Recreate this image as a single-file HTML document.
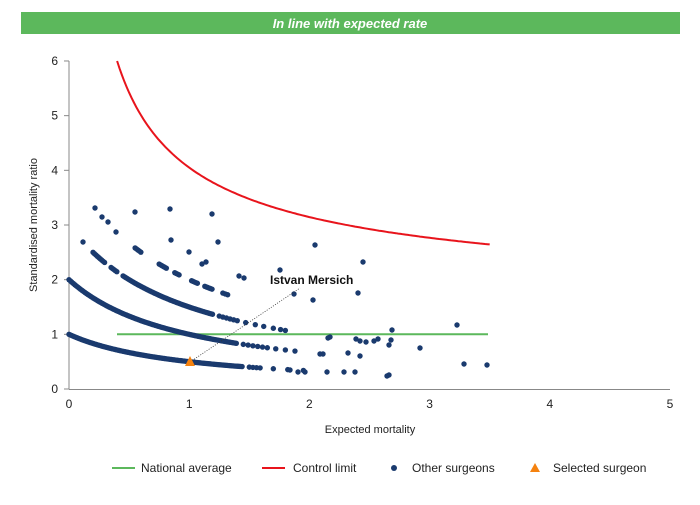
<!DOCTYPE html>
<html><head><meta charset="utf-8"><style>
body{margin:0;background:#fff;width:700px;height:500px;overflow:hidden;font-family:"Liberation Sans",Arial,sans-serif}
</style></head><body>
<svg id="s" width="700" height="500" xmlns="http://www.w3.org/2000/svg" font-family="Liberation Sans, Arial, sans-serif">
<rect x="21" y="12" width="659" height="22" fill="#5cb85c"/>
<text x="350" y="28" text-anchor="middle" fill="#fff" font-size="13" font-weight="bold" font-style="italic">In line with expected rate</text>
<g stroke="#888" stroke-width="1">
<line x1="69" y1="61" x2="69" y2="389"/>
<line x1="69" y1="389.5" x2="670" y2="389.5"/>
</g>
<g id="ticks" font-size="12" fill="#222"></g>
<text x="370" y="433" text-anchor="middle" font-size="11" fill="#222">Expected mortality</text>
<text transform="translate(37,225) rotate(-90)" text-anchor="middle" font-size="11" fill="#222">Standardised mortality ratio</text>
<line x1="117" y1="334.3" x2="488" y2="334.3" stroke="#5cb85c" stroke-width="2"/>
<polyline id="cl" fill="none" stroke="#e8141c" stroke-width="2"/>
<g id="dots" fill="#1a3a6e"></g>
<line x1="190" y1="362" x2="300" y2="288" stroke="#333" stroke-width="0.8" stroke-dasharray="1,1.5"/>
<polygon points="190,356 185,366 195,366" fill="#f5820f"/>
<text x="270" y="284" font-size="12" font-weight="bold" fill="#111">Istvan Mersich</text>
<line x1="112" y1="468" x2="135" y2="468" stroke="#5cb85c" stroke-width="2"/>
<text x="141" y="472" font-size="12" fill="#222">National average</text>
<line x1="262" y1="468" x2="285" y2="468" stroke="#e8141c" stroke-width="2"/>
<text x="293" y="472" font-size="12" fill="#222">Control limit</text>
<circle cx="394" cy="468" r="3" fill="#1a3a6e"/>
<text x="412" y="472" font-size="12" fill="#222">Other surgeons</text>
<polygon points="535,463 530,472 540,472" fill="#f5820f"/>
<text x="553" y="472" font-size="12" fill="#222">Selected surgeon</text>
</svg>
<script>
var NS="http://www.w3.org/2000/svg";
function X(v){return 69+v*120.2}function Y(v){return 389-v*54.67}
var t=document.getElementById('ticks');
for(var i=0;i<=5;i++){var e=document.createElementNS(NS,'text');e.setAttribute('x',X(i));e.setAttribute('y',408);e.setAttribute('text-anchor','middle');e.textContent=i;t.appendChild(e);}
for(var i=0;i<=6;i++){var e=document.createElementNS(NS,'text');e.setAttribute('x',58);e.setAttribute('y',Y(i)+4);e.setAttribute('text-anchor','end');e.textContent=i;t.appendChild(e);
var l=document.createElementNS(NS,'line');l.setAttribute('x1',64);l.setAttribute('x2',69);l.setAttribute('y1',Y(i));l.setAttribute('y2',Y(i));l.setAttribute('stroke','#888');t.appendChild(l);}
var p=[];for(var x=0.4;x<=3.5001;x+=0.02){var y=1.39+2.66*Math.pow(x,-0.6);if(y>6)y=6;p.push(X(x).toFixed(1)+','+Y(y).toFixed(1));}
document.getElementById('cl').setAttribute('points',p.join(' '));
var d=document.getElementById('dots');
function dot(cx,cy){var c=document.createElementNS(NS,'circle');c.setAttribute('cx',cx);c.setAttribute('cy',cy);c.setAttribute('r',2.7);d.appendChild(c);}
function seg(k,a,b,st){for(var x=a;x<=b+1e-9;x+=st)dot(X(x),Y(k/(1+x)));}
seg(1,0,1.45,0.012);seg(1,1.5,1.6,0.03);[1.7,1.82,1.95].forEach(function(x){dot(X(x),Y(1/(1+x)));});
seg(2,0,1.4,0.012);seg(2,1.45,1.65,0.04);[1.72,1.8,1.88].forEach(function(x){dot(X(x),Y(2/(1+x)));});
seg(3,0.2,0.3,0.012);seg(3,0.35,0.4,0.012);seg(3,0.45,1.2,0.012);seg(3,1.25,1.4,0.03);[1.47,1.55,1.62,1.7,1.76,1.8].forEach(function(x){dot(X(x),Y(3/(1+x)));});
seg(4,0.55,0.6,0.012);seg(4,0.75,0.82,0.012);seg(4,0.88,0.92,0.012);seg(4,1.02,1.07,0.012);seg(4,1.13,1.19,0.012);seg(4,1.28,1.32,0.02);
var pts=[[95,208],[102,217],[108,222],[83,242],[116,232],[135,212],[170,209],[171,240],[212,214],[218,242],[189,252],[202,264],[206,262],[239,276],[244,278],[280,270],[315,245],[363,262],[358,293],[294,294],[313,300],[330,337],[328,338],[320,354],[323,354],[344,372],[327,372],[305,372],[290,370],[356,339],[360,341],[366,342],[374,341],[348,353],[360,356],[378,339],[391,340],[392,330],[389,345],[420,348],[457,325],[464,364],[487,365],[387,376],[389,375],[355,372],[298,372]];
pts.forEach(function(q){dot(q[0],q[1]);});
</script>
</body></html>
